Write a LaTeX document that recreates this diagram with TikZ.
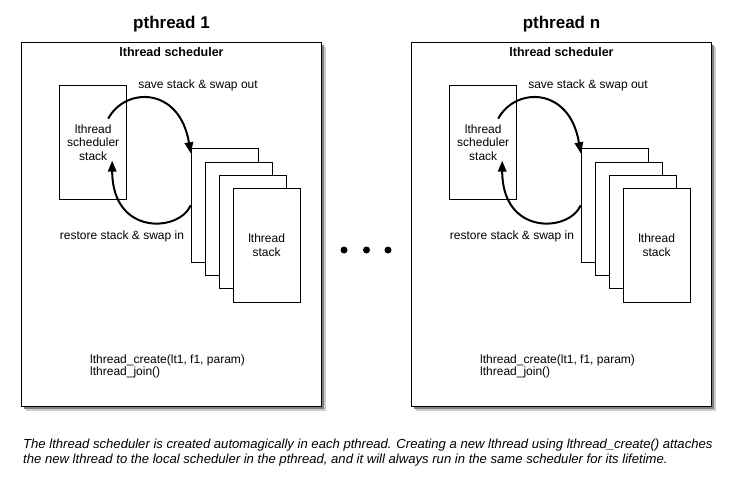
\documentclass[tikz,border=0pt]{standalone}
\usepackage{fontspec}
\setmainfont{Liberation Sans}
\usetikzlibrary{arrows.meta, positioning}

\begin{document}
\begin{tikzpicture}[x=1pt, y=-1pt, inner sep=2pt,
	panel/.style={draw, line width=1pt, fill=white, minimum width=300pt, minimum height=364pt},
	stackbox/.style={draw, line width=0.8pt, fill=white, minimum width=67pt, minimum height=113.4pt, align=center},
	title/.style={font=\bfseries\fontsize{17}{20}\selectfont},
	heading/.style={font=\bfseries\fontsize{12.5}{14}\selectfont},
	label/.style={font=\fontsize{12}{13.5}\selectfont, align=center},
	code/.style={font=\fontsize{12}{12.7}\selectfont, align=left},
	swap/.style={line width=2pt, -{Triangle[length=11pt, width=8.5pt]}}]
	\useasboundingbox (0,0) rectangle (730,476);
	\foreach \dx/\id/\name in {0/1/pthread 1, 390/n/pthread n} {
		% soft shadow
		\fill[gray!40] (26+\dx,47) rectangle (326+\dx,411);
		\fill[gray] (24+\dx,45) rectangle (324+\dx,409);
		\node[panel, anchor=north west] (box\id) at (21+\dx,42) {};
		\node[title] (title\id) [above=8pt of box\id.north] {\name};
		\node[heading] (sched\id) [below=3pt of box\id.north] {lthread scheduler};
		\node[stackbox, label, minimum height=114pt, anchor=north west] (sstack\id) at (59.3+\dx,85.3)
			{lthread\\scheduler\\stack};
		\foreach \i/\txt in {1/, 2/, 3/, 4/{lthread\\stack}}
			\node[stackbox, label, anchor=north west] (lst\id\i) at ({176.7+14*\i+\dx},{135+13.3*\i}) {\txt};
		\node[label] (out\id) at (198+\dx,85) {save stack \& swap out};
		\node[label] (in\id) at (122+\dx,236) {restore stack \& swap in};
		\node[code, anchor=west] (calls\id) at (88+\dx,366.5) {lthread\_create(lt1, f1, param)\\lthread\_join()};
		\draw[swap] ([shift={(15,-24)}]sstack\id.center) .. controls +(17,-32) and +(-11,-67) .. ([yshift=-5pt]lst\id1.north west);
		\draw[swap] (lst\id1.west) .. controls +(-12,27) and +(0,75) .. ([shift={(19,18)}]sstack\id.center);
	}
	\foreach \x in {344,366.5,388}
		\fill (\x,250) circle (3.5pt);
	\node[code, font=\itshape\fontsize{13.1}{15}\selectfont, anchor=north west] (caption) at (21,437)
		{The lthread scheduler is created automagically in each pthread. Creating a new lthread using lthread\_create() attaches\\
		the new lthread to the local scheduler in the pthread, and it will always run in the same scheduler for its lifetime.};
\end{tikzpicture}
\end{document}
